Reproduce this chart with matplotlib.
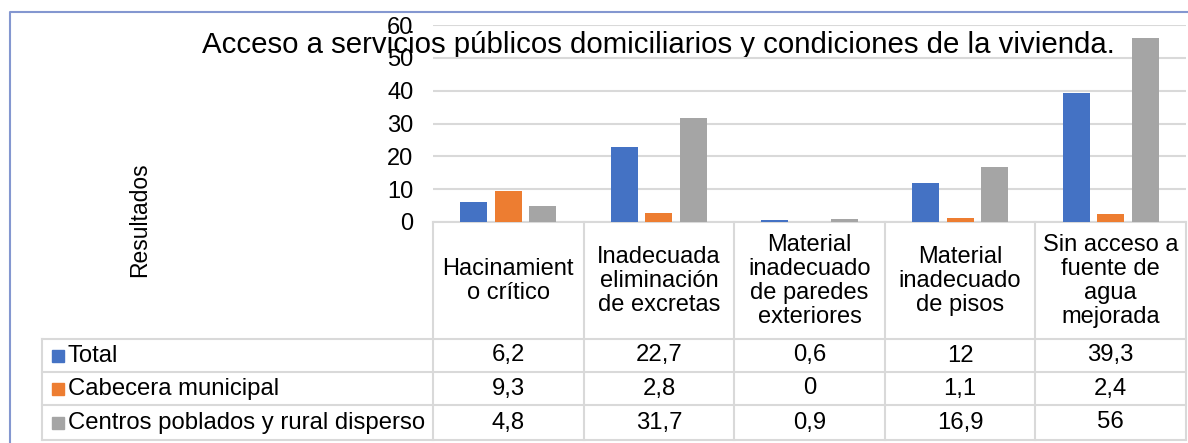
import matplotlib
matplotlib.use("Agg")
import matplotlib.pyplot as plt
from matplotlib.patches import Rectangle

plt.rcParams['font.family'] = ['Liberation Sans', 'DejaVu Sans']

# datos
categorias = ["Hacinamient\no crítico", "Inadecuada\neliminación\nde excretas",
              "Material\ninadecuado\nde paredes\nexteriores", "Material\ninadecuado\nde pisos",
              "Sin acceso a\nfuente de\nagua\nmejorada"]
series = ["Total", "Cabecera municipal", "Centros poblados y rural disperso"]
total = [6.2, 22.7, 0.6, 12, 39.3]
cabecera = [9.3, 2.8, 0, 1.1, 2.4]
centros = [4.8, 31.7, 0.9, 16.9, 56]
colores = ["#4472c4", "#ed7d31", "#a5a5a5"]
titulo = "Acceso a servicios públicos domiciliarios y condiciones de la vivienda."

W, H = 1188, 443
fig = plt.figure(figsize=(W / 100, H / 100), dpi=100)

# area del grafico (pixeles)
x0, x1 = 433, 1186
y0, y60 = 222, 25
ax = fig.add_axes([x0 / W, (H - y0) / H, (x1 - x0) / W, (y0 - y60) / H])
n = len(categorias)
ancho = 0.18
paso = 0.23
for k, vals in enumerate([total, cabecera, centros]):
    xs = [i + (k - 1) * paso for i in range(n)]
    ax.bar(xs, vals, width=ancho, color=colores[k], zorder=3)
ax.set_xlim(-0.5, n - 0.5)
ax.set_ylim(0, 60)
ax.set_yticks(range(0, 61, 10))
ax.set_xticks([])
ax.grid(axis='y', color='#d9d9d9', lw=1.5, zorder=0)
for s in ['top', 'right', 'left']:
    ax.spines[s].set_visible(False)
ax.spines['bottom'].set_color('#d9d9d9')
ax.spines['bottom'].set_linewidth(1.5)
ax.tick_params(axis='y', length=0, labelsize=17, pad=14)
ax.patch.set_visible(False)

# capa para tabla, titulo y borde
ov = fig.add_axes([0, 0, 1, 1], zorder=-1)
ov.set_xlim(0, W)
ov.set_ylim(H, 0)
ov.axis('off')

# borde del area del grafico
ov.plot([10, 10, W + 5], [H + 5, 12, 12], color='#8497d0', lw=1.5)

ov.text(658, 53, titulo, ha='center', va='baseline', fontsize=21.2, zorder=5)
ov.text(140, 220, "Resultados", rotation=90, ha='center', va='center', fontsize=16.5)

# tabla de datos
colw = (x1 - x0) / n
filas = [339, 372, 405, 440]
lc = '#d9d9d9'
for i in range(n + 1):
    xx = x0 + i * colw
    ov.plot([xx, xx], [y0, filas[-1]], color=lc, lw=1.5)
ov.plot([42, 42], [filas[0], filas[-1]], color=lc, lw=1.5)
for yy in filas:
    ov.plot([42, x1], [yy, yy], color=lc, lw=1.5)

for i, cat in enumerate(categorias):
    ov.text(x0 + (i + 0.5) * colw, 281, cat, ha='center', va='center',
            fontsize=17, linespacing=1.12)

for r, (nombre, vals) in enumerate(zip(series, [total, cabecera, centros])):
    yc = (filas[r] + filas[r + 1]) / 2
    ov.add_patch(Rectangle((52, yc - 6), 12, 12, color=colores[r]))
    ov.text(68, yc, nombre, ha='left', va='center', fontsize=17.2)
    for i, v in enumerate(vals):
        ov.text(x0 + (i + 0.5) * colw, yc, f"{v:g}".replace('.', ','),
                ha='center', va='center', fontsize=17.2)

fig.savefig("out.png", dpi=100)
